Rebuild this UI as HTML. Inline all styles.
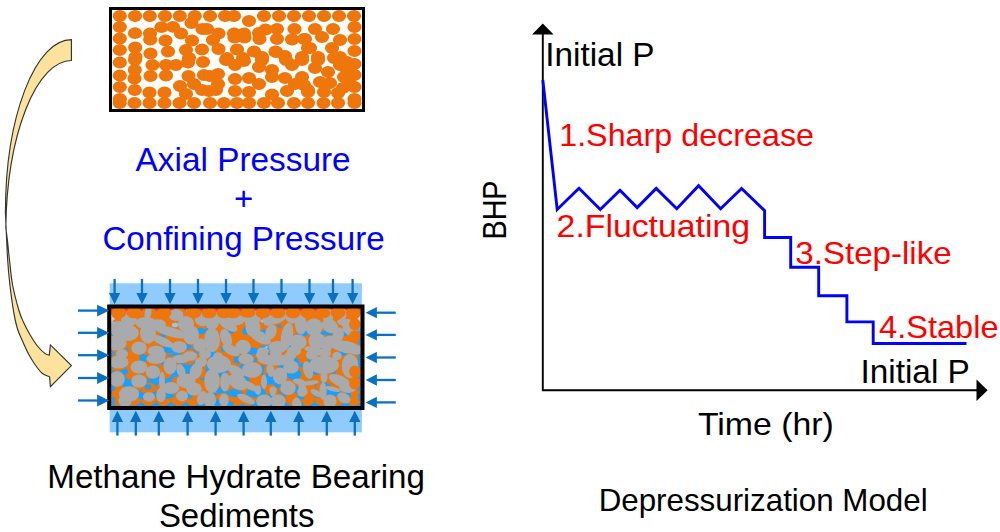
<!DOCTYPE html>
<html><head><meta charset="utf-8"><title>Depressurization Model</title>
<style>html,body{margin:0;padding:0;background:#fff;}body{width:1000px;height:532px;overflow:hidden;font-family:"Liberation Sans",sans-serif;}svg{display:block}</style>
</head><body>
<svg width="1000" height="532" viewBox="0 0 1000 532" font-family="'Liberation Sans', sans-serif">
<defs>
<linearGradient id="bg" x1="0" y1="0" x2="0" y2="1">
<stop offset="0" stop-color="#E82A2A"/><stop offset="0.04" stop-color="#EE4040"/><stop offset="0.10" stop-color="#F2C8D8"/><stop offset="0.16" stop-color="#A8D2F8"/><stop offset="0.27" stop-color="#24A2FF"/><stop offset="1" stop-color="#18A0FF"/>
</linearGradient>
<clipPath id="ct"><rect x="112" y="10" width="250" height="99"/></clipPath>
<clipPath id="cb"><rect x="110" y="307" width="252" height="100"/></clipPath>
</defs>
<rect width="1000" height="532" fill="#fff"/>
<!-- curved arrow -->
<path d="M71.4,39.6 A66,173.4 0 0 0 5.4,213C5.5,215.5 5.7,220.3 6.1,228.0C6.5,235.7 7.0,249.5 7.6,259.0C8.2,268.5 8.9,276.2 9.9,285.0C10.9,293.8 12.4,304.4 13.6,311.6C14.8,318.8 15.8,323.3 17.2,328.0C18.6,332.7 20.1,335.7 22.0,340.0C23.9,344.3 26.2,349.6 28.3,353.6C30.4,357.6 32.3,360.7 34.6,364.0C36.9,367.3 39.6,371.1 42.1,373.2C44.6,375.3 48.4,376.3 49.6,376.9L50.4,386.7 L71.4,365.6 L50.4,344.9 L49.3,355.1C48.6,354.9 47.1,355.1 45.1,353.6C43.1,352.1 40.0,349.3 37.4,346.0C34.8,342.7 31.9,338.0 29.6,334.0C27.3,330.0 25.2,326.0 23.4,322.0C21.6,318.0 20.6,316.2 18.8,310.0C17.0,303.8 14.2,293.5 12.6,285.0C11.0,276.5 10.3,266.5 9.4,259.0C8.5,251.5 8.0,245.2 7.4,240.0C6.8,234.8 6.1,230.0 5.8,228.0A65.9,173.1 0 0 1 71.4,60.5 Z" fill="#FCE29C" stroke="#333" stroke-width="1.15" stroke-linejoin="miter"/>
<!-- top box -->
<g clip-path="url(#ct)"><g fill="#EE760B"><ellipse cx="119.8" cy="16.0" rx="7.1" ry="5.9"/><ellipse cx="135.0" cy="16.0" rx="7.1" ry="5.9"/><ellipse cx="149.8" cy="16.0" rx="7.1" ry="5.9"/><ellipse cx="165.0" cy="16.0" rx="7.1" ry="5.9"/><ellipse cx="179.8" cy="16.0" rx="7.1" ry="5.9"/><ellipse cx="194.8" cy="16.0" rx="7.1" ry="5.9"/><ellipse cx="119.8" cy="27.0" rx="7.1" ry="5.9"/><ellipse cx="119.8" cy="38.5" rx="7.1" ry="5.9"/><ellipse cx="119.8" cy="50.0" rx="7.1" ry="5.9"/><ellipse cx="135.0" cy="33.2" rx="7.1" ry="5.9"/><ellipse cx="135.2" cy="47.5" rx="7.1" ry="5.9"/><ellipse cx="135.5" cy="57.0" rx="7.1" ry="5.9"/><ellipse cx="150.0" cy="33.5" rx="7.1" ry="5.9"/><ellipse cx="150.2" cy="39.5" rx="7.1" ry="5.9"/><ellipse cx="150.5" cy="53.5" rx="7.1" ry="5.9"/><ellipse cx="161.5" cy="27.2" rx="7.1" ry="5.9"/><ellipse cx="173.0" cy="26.8" rx="7.1" ry="5.9"/><ellipse cx="181.0" cy="33.5" rx="7.1" ry="5.9"/><ellipse cx="165.5" cy="40.5" rx="7.1" ry="5.9"/><ellipse cx="168.0" cy="51.5" rx="7.1" ry="5.9"/><ellipse cx="191.5" cy="23.0" rx="7.1" ry="5.9"/><ellipse cx="192.0" cy="40.5" rx="7.1" ry="5.9"/><ellipse cx="186.0" cy="50.0" rx="7.1" ry="5.9"/><ellipse cx="202.5" cy="29.0" rx="7.1" ry="5.9"/><ellipse cx="202.0" cy="49.5" rx="7.1" ry="5.9"/><ellipse cx="189.0" cy="58.0" rx="7.1" ry="5.9"/><ellipse cx="119.8" cy="62.5" rx="7.1" ry="5.9"/><ellipse cx="119.8" cy="75.5" rx="7.1" ry="5.9"/><ellipse cx="119.8" cy="87.0" rx="7.1" ry="5.9"/><ellipse cx="119.8" cy="99.0" rx="7.1" ry="5.9"/><ellipse cx="119.8" cy="103.0" rx="7.1" ry="5.9"/><ellipse cx="134.5" cy="103.0" rx="7.1" ry="5.9"/><ellipse cx="149.5" cy="103.0" rx="7.1" ry="5.9"/><ellipse cx="164.5" cy="103.0" rx="7.1" ry="5.9"/><ellipse cx="179.5" cy="103.0" rx="7.1" ry="5.9"/><ellipse cx="194.0" cy="103.0" rx="7.1" ry="5.9"/><ellipse cx="135.0" cy="60.0" rx="7.1" ry="5.9"/><ellipse cx="134.8" cy="70.0" rx="7.1" ry="5.9"/><ellipse cx="134.5" cy="78.5" rx="7.1" ry="5.9"/><ellipse cx="134.8" cy="90.0" rx="7.1" ry="5.9"/><ellipse cx="152.5" cy="65.0" rx="7.1" ry="5.9"/><ellipse cx="150.5" cy="76.0" rx="7.1" ry="5.9"/><ellipse cx="149.5" cy="92.5" rx="7.1" ry="5.9"/><ellipse cx="166.0" cy="65.0" rx="7.1" ry="5.9"/><ellipse cx="166.0" cy="75.5" rx="7.1" ry="5.9"/><ellipse cx="164.5" cy="92.5" rx="7.1" ry="5.9"/><ellipse cx="176.0" cy="65.0" rx="7.1" ry="5.9"/><ellipse cx="188.0" cy="62.5" rx="7.1" ry="5.9"/><ellipse cx="203.0" cy="62.0" rx="7.1" ry="5.9"/><ellipse cx="188.5" cy="76.0" rx="7.1" ry="5.9"/><ellipse cx="204.0" cy="75.0" rx="7.1" ry="5.9"/><ellipse cx="180.0" cy="86.0" rx="7.1" ry="5.9"/><ellipse cx="194.0" cy="84.0" rx="7.1" ry="5.9"/><ellipse cx="186.0" cy="94.0" rx="7.1" ry="5.9"/><ellipse cx="202.0" cy="90.0" rx="7.1" ry="5.9"/><ellipse cx="210.0" cy="16.0" rx="7.1" ry="5.9"/><ellipse cx="225.0" cy="16.0" rx="7.1" ry="5.9"/><ellipse cx="234.0" cy="16.0" rx="7.1" ry="5.9"/><ellipse cx="249.0" cy="21.0" rx="7.1" ry="5.9"/><ellipse cx="264.0" cy="16.0" rx="7.1" ry="5.9"/><ellipse cx="279.0" cy="16.0" rx="7.1" ry="5.9"/><ellipse cx="294.0" cy="16.0" rx="7.1" ry="5.9"/><ellipse cx="309.0" cy="16.0" rx="7.1" ry="5.9"/><ellipse cx="207.0" cy="29.0" rx="7.1" ry="5.9"/><ellipse cx="218.5" cy="33.5" rx="7.1" ry="5.9"/><ellipse cx="213.0" cy="40.0" rx="7.1" ry="5.9"/><ellipse cx="218.5" cy="49.0" rx="7.1" ry="5.9"/><ellipse cx="234.0" cy="33.5" rx="7.1" ry="5.9"/><ellipse cx="234.5" cy="37.5" rx="7.1" ry="5.9"/><ellipse cx="244.0" cy="33.5" rx="7.1" ry="5.9"/><ellipse cx="244.5" cy="37.5" rx="7.1" ry="5.9"/><ellipse cx="259.0" cy="33.0" rx="7.1" ry="5.9"/><ellipse cx="259.5" cy="39.0" rx="7.1" ry="5.9"/><ellipse cx="265.5" cy="29.5" rx="7.1" ry="5.9"/><ellipse cx="277.0" cy="29.0" rx="7.1" ry="5.9"/><ellipse cx="277.0" cy="39.0" rx="7.1" ry="5.9"/><ellipse cx="294.5" cy="29.0" rx="7.1" ry="5.9"/><ellipse cx="292.0" cy="39.5" rx="7.1" ry="5.9"/><ellipse cx="304.0" cy="39.0" rx="7.1" ry="5.9"/><ellipse cx="237.0" cy="49.5" rx="7.1" ry="5.9"/><ellipse cx="254.0" cy="51.5" rx="7.1" ry="5.9"/><ellipse cx="275.5" cy="51.5" rx="7.1" ry="5.9"/><ellipse cx="227.0" cy="58.0" rx="7.1" ry="5.9"/><ellipse cx="243.0" cy="58.0" rx="7.1" ry="5.9"/><ellipse cx="262.0" cy="57.0" rx="7.1" ry="5.9"/><ellipse cx="285.0" cy="56.0" rx="7.1" ry="5.9"/><ellipse cx="302.0" cy="57.0" rx="7.1" ry="5.9"/><ellipse cx="308.0" cy="48.0" rx="7.1" ry="5.9"/><ellipse cx="210.0" cy="103.0" rx="7.1" ry="5.9"/><ellipse cx="224.0" cy="103.0" rx="7.1" ry="5.9"/><ellipse cx="237.0" cy="103.0" rx="7.1" ry="5.9"/><ellipse cx="249.0" cy="103.0" rx="7.1" ry="5.9"/><ellipse cx="264.0" cy="103.0" rx="7.1" ry="5.9"/><ellipse cx="278.0" cy="103.0" rx="7.1" ry="5.9"/><ellipse cx="294.0" cy="103.0" rx="7.1" ry="5.9"/><ellipse cx="308.0" cy="103.0" rx="7.1" ry="5.9"/><ellipse cx="226.0" cy="60.0" rx="7.1" ry="5.9"/><ellipse cx="235.0" cy="65.0" rx="7.1" ry="5.9"/><ellipse cx="244.0" cy="61.0" rx="7.1" ry="5.9"/><ellipse cx="259.0" cy="67.0" rx="7.1" ry="5.9"/><ellipse cx="262.0" cy="60.0" rx="7.1" ry="5.9"/><ellipse cx="272.0" cy="70.0" rx="7.1" ry="5.9"/><ellipse cx="272.0" cy="77.0" rx="7.1" ry="5.9"/><ellipse cx="286.0" cy="60.0" rx="7.1" ry="5.9"/><ellipse cx="292.0" cy="65.0" rx="7.1" ry="5.9"/><ellipse cx="302.0" cy="60.0" rx="7.1" ry="5.9"/><ellipse cx="218.0" cy="74.0" rx="7.1" ry="5.9"/><ellipse cx="210.0" cy="76.0" rx="7.1" ry="5.9"/><ellipse cx="218.0" cy="84.0" rx="7.1" ry="5.9"/><ellipse cx="216.0" cy="90.0" rx="7.1" ry="5.9"/><ellipse cx="209.0" cy="91.0" rx="7.1" ry="5.9"/><ellipse cx="235.0" cy="79.0" rx="7.1" ry="5.9"/><ellipse cx="235.0" cy="91.0" rx="7.1" ry="5.9"/><ellipse cx="249.0" cy="78.0" rx="7.1" ry="5.9"/><ellipse cx="249.0" cy="92.0" rx="7.1" ry="5.9"/><ellipse cx="259.0" cy="84.0" rx="7.1" ry="5.9"/><ellipse cx="272.0" cy="94.5" rx="7.1" ry="5.9"/><ellipse cx="285.0" cy="78.0" rx="7.1" ry="5.9"/><ellipse cx="287.0" cy="91.0" rx="7.1" ry="5.9"/><ellipse cx="302.0" cy="77.0" rx="7.1" ry="5.9"/><ellipse cx="304.0" cy="85.0" rx="7.1" ry="5.9"/><ellipse cx="308.0" cy="92.0" rx="7.1" ry="5.9"/><ellipse cx="324.0" cy="16.0" rx="7.1" ry="5.9"/><ellipse cx="339.0" cy="16.0" rx="7.1" ry="5.9"/><ellipse cx="354.0" cy="16.0" rx="7.1" ry="5.9"/><ellipse cx="354.5" cy="27.0" rx="7.1" ry="5.9"/><ellipse cx="354.5" cy="39.0" rx="7.1" ry="5.9"/><ellipse cx="354.5" cy="51.0" rx="7.1" ry="5.9"/><ellipse cx="305.0" cy="39.0" rx="7.1" ry="5.9"/><ellipse cx="315.0" cy="29.0" rx="7.1" ry="5.9"/><ellipse cx="322.0" cy="37.0" rx="7.1" ry="5.9"/><ellipse cx="333.0" cy="29.0" rx="7.1" ry="5.9"/><ellipse cx="340.0" cy="40.0" rx="7.1" ry="5.9"/><ellipse cx="310.0" cy="48.0" rx="7.1" ry="5.9"/><ellipse cx="332.0" cy="48.0" rx="7.1" ry="5.9"/><ellipse cx="276.0" cy="52.0" rx="7.1" ry="5.9"/><ellipse cx="318.0" cy="57.0" rx="7.1" ry="5.9"/><ellipse cx="340.0" cy="57.0" rx="7.1" ry="5.9"/><ellipse cx="354.5" cy="64.0" rx="7.1" ry="5.9"/><ellipse cx="354.5" cy="75.0" rx="7.1" ry="5.9"/><ellipse cx="354.5" cy="87.0" rx="7.1" ry="5.9"/><ellipse cx="354.5" cy="99.0" rx="7.1" ry="5.9"/><ellipse cx="354.5" cy="103.0" rx="7.1" ry="5.9"/><ellipse cx="323.5" cy="103.0" rx="7.1" ry="5.9"/><ellipse cx="338.0" cy="103.0" rx="7.1" ry="5.9"/><ellipse cx="315.0" cy="68.0" rx="7.1" ry="5.9"/><ellipse cx="318.0" cy="60.0" rx="7.1" ry="5.9"/><ellipse cx="328.0" cy="72.0" rx="7.1" ry="5.9"/><ellipse cx="340.0" cy="65.0" rx="7.1" ry="5.9"/><ellipse cx="347.0" cy="62.0" rx="7.1" ry="5.9"/><ellipse cx="344.0" cy="77.0" rx="7.1" ry="5.9"/><ellipse cx="295.0" cy="84.0" rx="7.1" ry="5.9"/><ellipse cx="308.0" cy="90.0" rx="7.1" ry="5.9"/><ellipse cx="320.0" cy="82.0" rx="7.1" ry="5.9"/><ellipse cx="330.0" cy="83.0" rx="7.1" ry="5.9"/><ellipse cx="324.0" cy="92.0" rx="7.1" ry="5.9"/><ellipse cx="338.0" cy="93.0" rx="7.1" ry="5.9"/><ellipse cx="334.0" cy="58.0" rx="7.1" ry="5.9"/><ellipse cx="347.0" cy="70.0" rx="7.1" ry="5.9"/><ellipse cx="349.0" cy="82.0" rx="7.1" ry="5.9"/><ellipse cx="343.0" cy="88.0" rx="7.1" ry="5.9"/></g></g>
<rect x="110.5" y="8.5" width="253" height="102" fill="none" stroke="#000" stroke-width="3"/>
<!-- bottom box -->
<rect x="109.7" y="283.3" width="252.2" height="149" fill="#90CBFE"/>
<rect x="109" y="306" width="254" height="102" fill="url(#bg)"/>
<g clip-path="url(#cb)"><g fill="#EE760B"><ellipse cx="118.8" cy="313.5" rx="7.4" ry="6.2"/><ellipse cx="134.0" cy="313.5" rx="7.4" ry="6.2"/><ellipse cx="148.8" cy="313.5" rx="7.4" ry="6.2"/><ellipse cx="164.0" cy="313.5" rx="7.4" ry="6.2"/><ellipse cx="178.8" cy="313.5" rx="7.4" ry="6.2"/><ellipse cx="193.8" cy="313.5" rx="7.4" ry="6.2"/><ellipse cx="118.8" cy="324.3" rx="7.4" ry="6.2"/><ellipse cx="118.8" cy="335.7" rx="7.4" ry="6.2"/><ellipse cx="118.8" cy="347.0" rx="7.4" ry="6.2"/><ellipse cx="118.8" cy="359.3" rx="7.4" ry="6.2"/><ellipse cx="118.8" cy="372.1" rx="7.4" ry="6.2"/><ellipse cx="118.8" cy="383.4" rx="7.4" ry="6.2"/><ellipse cx="118.8" cy="395.3" rx="7.4" ry="6.2"/><ellipse cx="118.8" cy="399.2" rx="7.4" ry="6.2"/><ellipse cx="133.5" cy="399.2" rx="7.4" ry="6.2"/><ellipse cx="148.5" cy="399.2" rx="7.4" ry="6.2"/><ellipse cx="163.5" cy="399.2" rx="7.4" ry="6.2"/><ellipse cx="178.5" cy="399.2" rx="7.4" ry="6.2"/><ellipse cx="193.0" cy="399.2" rx="7.4" ry="6.2"/><ellipse cx="209.0" cy="313.5" rx="7.4" ry="6.2"/><ellipse cx="224.0" cy="313.5" rx="7.4" ry="6.2"/><ellipse cx="233.0" cy="313.5" rx="7.4" ry="6.2"/><ellipse cx="263.0" cy="313.5" rx="7.4" ry="6.2"/><ellipse cx="278.0" cy="313.5" rx="7.4" ry="6.2"/><ellipse cx="293.0" cy="313.5" rx="7.4" ry="6.2"/><ellipse cx="308.0" cy="313.5" rx="7.4" ry="6.2"/><ellipse cx="209.0" cy="399.2" rx="7.4" ry="6.2"/><ellipse cx="223.0" cy="399.2" rx="7.4" ry="6.2"/><ellipse cx="236.0" cy="399.2" rx="7.4" ry="6.2"/><ellipse cx="248.0" cy="399.2" rx="7.4" ry="6.2"/><ellipse cx="263.0" cy="399.2" rx="7.4" ry="6.2"/><ellipse cx="277.0" cy="399.2" rx="7.4" ry="6.2"/><ellipse cx="293.0" cy="399.2" rx="7.4" ry="6.2"/><ellipse cx="307.0" cy="399.2" rx="7.4" ry="6.2"/><ellipse cx="323.0" cy="313.5" rx="7.4" ry="6.2"/><ellipse cx="338.0" cy="313.5" rx="7.4" ry="6.2"/><ellipse cx="353.0" cy="313.5" rx="7.4" ry="6.2"/><ellipse cx="353.5" cy="324.3" rx="7.4" ry="6.2"/><ellipse cx="353.5" cy="336.2" rx="7.4" ry="6.2"/><ellipse cx="353.5" cy="348.0" rx="7.4" ry="6.2"/><ellipse cx="353.5" cy="360.8" rx="7.4" ry="6.2"/><ellipse cx="353.5" cy="371.6" rx="7.4" ry="6.2"/><ellipse cx="353.5" cy="383.4" rx="7.4" ry="6.2"/><ellipse cx="353.5" cy="395.3" rx="7.4" ry="6.2"/><ellipse cx="353.5" cy="399.2" rx="7.4" ry="6.2"/><ellipse cx="322.5" cy="399.2" rx="7.4" ry="6.2"/><ellipse cx="337.0" cy="399.2" rx="7.4" ry="6.2"/><ellipse cx="248.0" cy="313.0" rx="7.4" ry="6.2"/><rect x="116" y="313.5" width="241" height="32" rx="4"/><ellipse cx="118.8" cy="347.0" rx="7.7" ry="6.5"/><ellipse cx="134.2" cy="344.5" rx="7.7" ry="6.5"/><ellipse cx="134.5" cy="353.9" rx="7.7" ry="6.5"/><ellipse cx="149.5" cy="350.4" rx="7.7" ry="6.5"/><ellipse cx="167.0" cy="348.5" rx="7.7" ry="6.5"/><ellipse cx="185.0" cy="347.0" rx="7.7" ry="6.5"/><ellipse cx="201.0" cy="346.5" rx="7.7" ry="6.5"/><ellipse cx="188.0" cy="354.9" rx="7.7" ry="6.5"/><ellipse cx="118.8" cy="359.3" rx="7.7" ry="6.5"/><ellipse cx="118.8" cy="372.1" rx="7.7" ry="6.5"/><ellipse cx="118.8" cy="383.4" rx="7.7" ry="6.5"/><ellipse cx="118.8" cy="395.3" rx="7.7" ry="6.5"/><ellipse cx="118.8" cy="399.2" rx="7.7" ry="6.5"/><ellipse cx="133.5" cy="399.2" rx="7.7" ry="6.5"/><ellipse cx="148.5" cy="399.2" rx="7.7" ry="6.5"/><ellipse cx="163.5" cy="399.2" rx="7.7" ry="6.5"/><ellipse cx="178.5" cy="399.2" rx="7.7" ry="6.5"/><ellipse cx="193.0" cy="399.2" rx="7.7" ry="6.5"/><ellipse cx="134.0" cy="356.9" rx="7.7" ry="6.5"/><ellipse cx="133.8" cy="366.7" rx="7.7" ry="6.5"/><ellipse cx="133.5" cy="375.1" rx="7.7" ry="6.5"/><ellipse cx="133.8" cy="386.4" rx="7.7" ry="6.5"/><ellipse cx="151.5" cy="361.8" rx="7.7" ry="6.5"/><ellipse cx="149.5" cy="372.6" rx="7.7" ry="6.5"/><ellipse cx="148.5" cy="388.9" rx="7.7" ry="6.5"/><ellipse cx="165.0" cy="361.8" rx="7.7" ry="6.5"/><ellipse cx="165.0" cy="372.1" rx="7.7" ry="6.5"/><ellipse cx="163.5" cy="388.9" rx="7.7" ry="6.5"/><ellipse cx="175.0" cy="361.8" rx="7.7" ry="6.5"/><ellipse cx="187.0" cy="359.3" rx="7.7" ry="6.5"/><ellipse cx="202.0" cy="358.8" rx="7.7" ry="6.5"/><ellipse cx="187.5" cy="372.6" rx="7.7" ry="6.5"/><ellipse cx="203.0" cy="371.6" rx="7.7" ry="6.5"/><ellipse cx="179.0" cy="382.5" rx="7.7" ry="6.5"/><ellipse cx="193.0" cy="380.5" rx="7.7" ry="6.5"/><ellipse cx="185.0" cy="390.3" rx="7.7" ry="6.5"/><ellipse cx="201.0" cy="386.4" rx="7.7" ry="6.5"/><ellipse cx="217.5" cy="346.0" rx="7.7" ry="6.5"/><ellipse cx="236.0" cy="346.5" rx="7.7" ry="6.5"/><ellipse cx="253.0" cy="348.5" rx="7.7" ry="6.5"/><ellipse cx="274.5" cy="348.5" rx="7.7" ry="6.5"/><ellipse cx="226.0" cy="354.9" rx="7.7" ry="6.5"/><ellipse cx="242.0" cy="354.9" rx="7.7" ry="6.5"/><ellipse cx="261.0" cy="353.9" rx="7.7" ry="6.5"/><ellipse cx="284.0" cy="352.9" rx="7.7" ry="6.5"/><ellipse cx="301.0" cy="353.9" rx="7.7" ry="6.5"/><ellipse cx="307.0" cy="345.0" rx="7.7" ry="6.5"/><ellipse cx="209.0" cy="399.2" rx="7.7" ry="6.5"/><ellipse cx="223.0" cy="399.2" rx="7.7" ry="6.5"/><ellipse cx="236.0" cy="399.2" rx="7.7" ry="6.5"/><ellipse cx="248.0" cy="399.2" rx="7.7" ry="6.5"/><ellipse cx="263.0" cy="399.2" rx="7.7" ry="6.5"/><ellipse cx="277.0" cy="399.2" rx="7.7" ry="6.5"/><ellipse cx="293.0" cy="399.2" rx="7.7" ry="6.5"/><ellipse cx="307.0" cy="399.2" rx="7.7" ry="6.5"/><ellipse cx="225.0" cy="356.9" rx="7.7" ry="6.5"/><ellipse cx="234.0" cy="361.8" rx="7.7" ry="6.5"/><ellipse cx="243.0" cy="357.8" rx="7.7" ry="6.5"/><ellipse cx="258.0" cy="363.7" rx="7.7" ry="6.5"/><ellipse cx="261.0" cy="356.9" rx="7.7" ry="6.5"/><ellipse cx="271.0" cy="366.7" rx="7.7" ry="6.5"/><ellipse cx="271.0" cy="373.6" rx="7.7" ry="6.5"/><ellipse cx="285.0" cy="356.9" rx="7.7" ry="6.5"/><ellipse cx="291.0" cy="361.8" rx="7.7" ry="6.5"/><ellipse cx="301.0" cy="356.9" rx="7.7" ry="6.5"/><ellipse cx="217.0" cy="370.6" rx="7.7" ry="6.5"/><ellipse cx="209.0" cy="372.6" rx="7.7" ry="6.5"/><ellipse cx="217.0" cy="380.5" rx="7.7" ry="6.5"/><ellipse cx="215.0" cy="386.4" rx="7.7" ry="6.5"/><ellipse cx="208.0" cy="387.4" rx="7.7" ry="6.5"/><ellipse cx="234.0" cy="375.6" rx="7.7" ry="6.5"/><ellipse cx="234.0" cy="387.4" rx="7.7" ry="6.5"/><ellipse cx="248.0" cy="374.6" rx="7.7" ry="6.5"/><ellipse cx="248.0" cy="388.4" rx="7.7" ry="6.5"/><ellipse cx="258.0" cy="380.5" rx="7.7" ry="6.5"/><ellipse cx="271.0" cy="390.8" rx="7.7" ry="6.5"/><ellipse cx="284.0" cy="374.6" rx="7.7" ry="6.5"/><ellipse cx="286.0" cy="387.4" rx="7.7" ry="6.5"/><ellipse cx="301.0" cy="373.6" rx="7.7" ry="6.5"/><ellipse cx="303.0" cy="381.5" rx="7.7" ry="6.5"/><ellipse cx="307.0" cy="388.4" rx="7.7" ry="6.5"/><ellipse cx="353.5" cy="348.0" rx="7.7" ry="6.5"/><ellipse cx="309.0" cy="345.0" rx="7.7" ry="6.5"/><ellipse cx="331.0" cy="345.0" rx="7.7" ry="6.5"/><ellipse cx="275.0" cy="349.0" rx="7.7" ry="6.5"/><ellipse cx="317.0" cy="353.9" rx="7.7" ry="6.5"/><ellipse cx="339.0" cy="353.9" rx="7.7" ry="6.5"/><ellipse cx="353.5" cy="360.8" rx="7.7" ry="6.5"/><ellipse cx="353.5" cy="371.6" rx="7.7" ry="6.5"/><ellipse cx="353.5" cy="383.4" rx="7.7" ry="6.5"/><ellipse cx="353.5" cy="395.3" rx="7.7" ry="6.5"/><ellipse cx="353.5" cy="399.2" rx="7.7" ry="6.5"/><ellipse cx="322.5" cy="399.2" rx="7.7" ry="6.5"/><ellipse cx="337.0" cy="399.2" rx="7.7" ry="6.5"/><ellipse cx="314.0" cy="364.7" rx="7.7" ry="6.5"/><ellipse cx="317.0" cy="356.9" rx="7.7" ry="6.5"/><ellipse cx="327.0" cy="368.7" rx="7.7" ry="6.5"/><ellipse cx="339.0" cy="361.8" rx="7.7" ry="6.5"/><ellipse cx="346.0" cy="358.8" rx="7.7" ry="6.5"/><ellipse cx="343.0" cy="373.6" rx="7.7" ry="6.5"/><ellipse cx="294.0" cy="380.5" rx="7.7" ry="6.5"/><ellipse cx="307.0" cy="386.4" rx="7.7" ry="6.5"/><ellipse cx="319.0" cy="378.5" rx="7.7" ry="6.5"/><ellipse cx="329.0" cy="379.5" rx="7.7" ry="6.5"/><ellipse cx="323.0" cy="388.4" rx="7.7" ry="6.5"/><ellipse cx="337.0" cy="389.4" rx="7.7" ry="6.5"/><ellipse cx="333.0" cy="354.9" rx="7.7" ry="6.5"/><ellipse cx="346.0" cy="366.7" rx="7.7" ry="6.5"/><ellipse cx="348.0" cy="378.5" rx="7.7" ry="6.5"/><ellipse cx="342.0" cy="384.4" rx="7.7" ry="6.5"/></g><ellipse cx="175" cy="325" rx="3.2" ry="2.2" fill="#8CC8F8"/><ellipse cx="142" cy="328.5" rx="1.6" ry="1.6" fill="#18A0FF"/><ellipse cx="156.5" cy="329" rx="1.6" ry="1.6" fill="#18A0FF"/><ellipse cx="127.5" cy="327.5" rx="1.6" ry="1.6" fill="#8CC8F8"/><ellipse cx="201" cy="331" rx="4.9" ry="3.2" fill="#18A0FF"/><ellipse cx="163" cy="336" rx="2.7" ry="2.2" fill="#18A0FF"/><ellipse cx="169" cy="349" rx="6.1" ry="4.1" fill="#18A0FF"/><ellipse cx="188" cy="347" rx="3.4" ry="2.7" fill="#18A0FF"/><ellipse cx="113" cy="324" rx="1.6" ry="2.7" fill="#8CC8F8"/><ellipse cx="113" cy="336" rx="1.3" ry="2.2" fill="#18A0FF"/><ellipse cx="144" cy="358" rx="4.7" ry="3.4" fill="#18A0FF"/><ellipse cx="163" cy="363" rx="2.0" ry="2.0" fill="#18A0FF"/><ellipse cx="124" cy="372" rx="4.1" ry="2.7" fill="#18A0FF"/><ellipse cx="128" cy="384" rx="5.4" ry="4.7" fill="#18A0FF"/><ellipse cx="113.5" cy="374" rx="2.0" ry="4.1" fill="#18A0FF"/><ellipse cx="174" cy="372.5" rx="3.4" ry="2.7" fill="#18A0FF"/><ellipse cx="187" cy="369" rx="6.1" ry="4.7" fill="#18A0FF"/><ellipse cx="182" cy="362" rx="3.4" ry="2.7" fill="#18A0FF"/><ellipse cx="148" cy="387" rx="3.4" ry="2.7" fill="#18A0FF"/><ellipse cx="142" cy="396" rx="4.1" ry="3.4" fill="#18A0FF"/><ellipse cx="154" cy="395" rx="3.4" ry="2.7" fill="#18A0FF"/><ellipse cx="168" cy="396" rx="6.1" ry="2.7" fill="#18A0FF"/><ellipse cx="189" cy="396" rx="3.4" ry="2.7" fill="#18A0FF"/><ellipse cx="113.5" cy="385" rx="1.6" ry="3.4" fill="#18A0FF"/><ellipse cx="113.5" cy="400" rx="1.6" ry="3.4" fill="#18A0FF"/><ellipse cx="141" cy="405" rx="2.7" ry="2.0" fill="#18A0FF"/><ellipse cx="156" cy="405" rx="2.7" ry="2.0" fill="#18A0FF"/><ellipse cx="171" cy="405" rx="2.7" ry="2.0" fill="#18A0FF"/><ellipse cx="186" cy="405" rx="2.7" ry="2.0" fill="#18A0FF"/><ellipse cx="246" cy="331" rx="3.8" ry="3.8" fill="#18A0FF"/><ellipse cx="231" cy="331.5" rx="2.7" ry="2.7" fill="#18A0FF"/><ellipse cx="222" cy="332" rx="1.6" ry="1.6" fill="#18A0FF"/><ellipse cx="264" cy="333" rx="3.2" ry="3.8" fill="#18A0FF"/><ellipse cx="247" cy="324" rx="1.6" ry="1.6" fill="#8CC8F8"/><ellipse cx="280" cy="326" rx="1.6" ry="1.6" fill="#18A0FF"/><ellipse cx="302" cy="334" rx="4.9" ry="2.7" fill="#18A0FF"/><ellipse cx="262" cy="321" rx="1.6" ry="1.6" fill="#8CC8F8"/><ellipse cx="253" cy="351" rx="6.1" ry="3.4" fill="#18A0FF"/><ellipse cx="224" cy="349" rx="3.4" ry="2.7" fill="#18A0FF"/><ellipse cx="268" cy="348.5" rx="3.4" ry="2.7" fill="#8CC8F8"/><ellipse cx="207" cy="329.5" rx="1.6" ry="1.6" fill="#18A0FF"/><ellipse cx="210" cy="369" rx="4.7" ry="4.1" fill="#18A0FF"/><ellipse cx="237" cy="360" rx="3.4" ry="3.4" fill="#18A0FF"/><ellipse cx="222" cy="374.5" rx="3.4" ry="2.7" fill="#18A0FF"/><ellipse cx="255" cy="360" rx="2.0" ry="2.0" fill="#18A0FF"/><ellipse cx="263" cy="367" rx="2.0" ry="2.0" fill="#18A0FF"/><ellipse cx="270" cy="378" rx="4.7" ry="6.1" fill="#18A0FF"/><ellipse cx="294" cy="374" rx="7.4" ry="6.1" fill="#18A0FF"/><ellipse cx="295" cy="361" rx="4.1" ry="3.4" fill="#18A0FF"/><ellipse cx="246" cy="379" rx="3.4" ry="2.7" fill="#18A0FF"/><ellipse cx="256" cy="393" rx="10.1" ry="4.7" fill="#18A0FF"/><ellipse cx="234" cy="393" rx="6.1" ry="4.1" fill="#18A0FF"/><ellipse cx="219" cy="390" rx="3.4" ry="2.7" fill="#18A0FF"/><ellipse cx="278" cy="385" rx="3.4" ry="2.7" fill="#18A0FF"/><ellipse cx="303" cy="383" rx="3.4" ry="2.7" fill="#18A0FF"/><ellipse cx="217" cy="403" rx="4.1" ry="3.4" fill="#18A0FF"/><ellipse cx="230" cy="404" rx="3.4" ry="2.7" fill="#18A0FF"/><ellipse cx="271" cy="396" rx="2.0" ry="2.0" fill="#18A0FF"/><ellipse cx="301" cy="397" rx="3.4" ry="2.7" fill="#18A0FF"/><ellipse cx="308.5" cy="332" rx="8.6" ry="2.7" fill="#18A0FF"/><ellipse cx="326.5" cy="333" rx="7.6" ry="2.2" fill="#18A0FF"/><ellipse cx="345" cy="334" rx="2.7" ry="2.2" fill="#18A0FF"/><ellipse cx="358" cy="325" rx="2.2" ry="3.2" fill="#8CC8F8"/><ellipse cx="358" cy="335" rx="2.2" ry="2.7" fill="#18A0FF"/><ellipse cx="328" cy="348" rx="2.7" ry="4.1" fill="#8CC8F8"/><ellipse cx="279" cy="326" rx="1.6" ry="1.6" fill="#18A0FF"/><ellipse cx="292" cy="336" rx="1.6" ry="1.6" fill="#18A0FF"/><ellipse cx="270" cy="348" rx="2.7" ry="2.7" fill="#18A0FF"/><ellipse cx="343" cy="353" rx="3.4" ry="2.7" fill="#18A0FF"/><ellipse cx="312" cy="362" rx="3.4" ry="4.1" fill="#18A0FF"/><ellipse cx="316" cy="372" rx="3.4" ry="2.7" fill="#18A0FF"/><ellipse cx="345" cy="366" rx="2.0" ry="2.0" fill="#18A0FF"/><ellipse cx="324" cy="384" rx="3.4" ry="2.7" fill="#18A0FF"/><ellipse cx="333" cy="392" rx="7.4" ry="4.1" fill="#18A0FF"/><ellipse cx="328" cy="387" rx="3.4" ry="2.7" fill="#18A0FF"/><ellipse cx="347" cy="396" rx="4.1" ry="3.4" fill="#18A0FF"/><ellipse cx="359.5" cy="361" rx="1.4" ry="6.8" fill="#18A0FF"/><ellipse cx="359.5" cy="385" rx="1.4" ry="4.1" fill="#18A0FF"/><ellipse cx="359.5" cy="397" rx="1.4" ry="4.1" fill="#18A0FF"/><ellipse cx="317" cy="396" rx="2.0" ry="2.0" fill="#18A0FF"/><ellipse cx="269" cy="396" rx="2.0" ry="2.0" fill="#18A0FF"/><ellipse cx="301" cy="404" rx="2.7" ry="2.0" fill="#18A0FF"/><g fill="#A8AAAC"><ellipse cx="129" cy="320" rx="8.0" ry="6.7"/><ellipse cx="118" cy="329" rx="8.0" ry="8.0"/><ellipse cx="128" cy="333" rx="10.7" ry="8.0"/><ellipse cx="148" cy="313" rx="3.4" ry="6.7" transform="rotate(10 148 313)"/><ellipse cx="146" cy="323" rx="10.7" ry="6.0"/><ellipse cx="148" cy="333" rx="8.0" ry="10.7"/><ellipse cx="158" cy="324" rx="8.0" ry="4.7"/><ellipse cx="116" cy="343" rx="10.7" ry="7.4"/><ellipse cx="112" cy="338.5" rx="5.4" ry="2.0" transform="rotate(10 112 338.5)"/><ellipse cx="139" cy="348" rx="7.8" ry="6.6"/><ellipse cx="156" cy="351" rx="8.4" ry="5.4"/><ellipse cx="176" cy="315" rx="7.4" ry="6.0"/><ellipse cx="186" cy="324" rx="8.0" ry="8.0"/><ellipse cx="196" cy="314" rx="10.7" ry="3.4" transform="rotate(20 196 314)"/><ellipse cx="171" cy="332" rx="17.4" ry="4.7" transform="rotate(15 171 332)"/><ellipse cx="191" cy="335" rx="8.0" ry="9.4"/><ellipse cx="179" cy="347" rx="7.8" ry="6.0"/><ellipse cx="201" cy="321" rx="6.7" ry="4.7" transform="rotate(30 201 321)"/><ellipse cx="200" cy="345" rx="6.7" ry="6.7"/><ellipse cx="162" cy="341" rx="13.4" ry="4.0" transform="rotate(25 162 341)"/><ellipse cx="119" cy="362" rx="9.6" ry="6.6"/><ellipse cx="139" cy="367" rx="8.4" ry="6.6"/><ellipse cx="153" cy="372" rx="7.2" ry="6.6"/><ellipse cx="117" cy="379" rx="7.8" ry="7.8"/><ellipse cx="139" cy="381" rx="7.8" ry="6.6"/><ellipse cx="129" cy="394" rx="10.2" ry="7.8"/><ellipse cx="125" cy="401" rx="6.6" ry="6.0"/><ellipse cx="149" cy="397" rx="6.0" ry="4.8"/><ellipse cx="161" cy="395" rx="4.8" ry="7.2"/><ellipse cx="162" cy="381" rx="3.0" ry="9.6"/><ellipse cx="171" cy="388" rx="8.4" ry="6.0"/><ellipse cx="170" cy="366" rx="6.6" ry="8.4"/><ellipse cx="156" cy="359" rx="9.6" ry="4.8"/><ellipse cx="181" cy="359" rx="8.4" ry="4.2"/><ellipse cx="181" cy="371" rx="4.2" ry="7.2" transform="rotate(-20 181 371)"/><ellipse cx="186" cy="381" rx="9.6" ry="7.2"/><ellipse cx="194" cy="389" rx="7.8" ry="6.6"/><ellipse cx="182" cy="396" rx="6.0" ry="5.4"/><ellipse cx="196" cy="371" rx="6.0" ry="8.4" transform="rotate(20 196 371)"/><ellipse cx="201" cy="362" rx="6.0" ry="4.8"/><ellipse cx="202" cy="398" rx="4.8" ry="7.2" transform="rotate(20 202 398)"/><ellipse cx="212" cy="320" rx="7.4" ry="10.1"/><ellipse cx="223" cy="318" rx="6.7" ry="5.4"/><ellipse cx="228" cy="325" rx="10.7" ry="4.7" transform="rotate(30 228 325)"/><ellipse cx="236" cy="320" rx="8.7" ry="5.4"/><ellipse cx="252" cy="318" rx="8.7" ry="8.0"/><ellipse cx="253" cy="328" rx="7.4" ry="8.7"/><ellipse cx="260" cy="337" rx="12.1" ry="5.4" transform="rotate(30 260 337)"/><ellipse cx="268" cy="320" rx="5.4" ry="6.0"/><ellipse cx="279" cy="317" rx="10.7" ry="5.4" transform="rotate(-30 279 317)"/><ellipse cx="293" cy="316" rx="8.0" ry="7.4"/><ellipse cx="301" cy="325" rx="6.0" ry="9.4"/><ellipse cx="271" cy="332" rx="5.4" ry="8.0" transform="rotate(20 271 332)"/><ellipse cx="287" cy="336" rx="6.0" ry="13.4" transform="rotate(10 287 336)"/><ellipse cx="212" cy="340" rx="8.0" ry="12.1"/><ellipse cx="226" cy="338" rx="5.4" ry="9.4" transform="rotate(-20 226 338)"/><ellipse cx="243" cy="347" rx="7.8" ry="7.2"/><ellipse cx="231" cy="350" rx="9.6" ry="4.8" transform="rotate(30 231 350)"/><ellipse cx="278" cy="347" rx="9.6" ry="6.0"/><ellipse cx="298" cy="342" rx="8.7" ry="7.4"/><ellipse cx="294" cy="351" rx="7.2" ry="4.8"/><ellipse cx="263" cy="351" rx="6.0" ry="3.6"/><ellipse cx="219" cy="364" rx="12.0" ry="9.0"/><ellipse cx="246" cy="359" rx="7.8" ry="5.4"/><ellipse cx="236" cy="371" rx="9.6" ry="4.8" transform="rotate(30 236 371)"/><ellipse cx="252" cy="370" rx="10.2" ry="7.8"/><ellipse cx="212" cy="381" rx="7.8" ry="12.0"/><ellipse cx="225" cy="382" rx="4.8" ry="9.6"/><ellipse cx="238" cy="382" rx="10.8" ry="7.2" transform="rotate(30 238 382)"/><ellipse cx="250" cy="386" rx="9.6" ry="3.6" transform="rotate(30 250 386)"/><ellipse cx="264" cy="382" rx="3.0" ry="7.2"/><ellipse cx="271" cy="371" rx="3.6" ry="6.0"/><ellipse cx="276" cy="360" rx="18.0" ry="5.4"/><ellipse cx="280" cy="376" rx="7.2" ry="8.4"/><ellipse cx="291" cy="367" rx="7.8" ry="6.6"/><ellipse cx="288" cy="388" rx="7.8" ry="7.2"/><ellipse cx="300" cy="382" rx="7.2" ry="3.0" transform="rotate(15 300 382)"/><ellipse cx="302" cy="392" rx="4.8" ry="4.8"/><ellipse cx="210" cy="400" rx="6.0" ry="7.8"/><ellipse cx="224" cy="400" rx="4.8" ry="6.6"/><ellipse cx="246" cy="399" rx="9.6" ry="3.6" transform="rotate(25 246 399)"/><ellipse cx="264" cy="401" rx="7.8" ry="6.6"/><ellipse cx="278" cy="401" rx="7.8" ry="6.6"/><ellipse cx="273" cy="390" rx="3.6" ry="3.6"/><ellipse cx="296" cy="402" rx="3.6" ry="4.8" transform="rotate(30 296 402)"/><ellipse cx="258" cy="390" rx="3.0" ry="4.8"/><ellipse cx="314" cy="327" rx="8.7" ry="8.7"/><ellipse cx="328" cy="316" rx="5.4" ry="7.4"/><ellipse cx="330" cy="326" rx="8.7" ry="6.7" transform="rotate(30 330 326)"/><ellipse cx="343" cy="314" rx="4.0" ry="5.4"/><ellipse cx="347" cy="323" rx="10.1" ry="4.0" transform="rotate(10 347 323)"/><ellipse cx="350" cy="330" rx="8.0" ry="5.4" transform="rotate(30 350 330)"/><ellipse cx="338" cy="336" rx="5.4" ry="8.7" transform="rotate(20 338 336)"/><ellipse cx="317" cy="341" rx="8.7" ry="8.0"/><ellipse cx="328" cy="343" rx="8.7" ry="6.7" transform="rotate(-30 328 343)"/><ellipse cx="346" cy="347" rx="15.0" ry="6.0" transform="rotate(10 346 347)"/><ellipse cx="356" cy="350" rx="6.6" ry="4.8"/><ellipse cx="316" cy="351" rx="12.0" ry="3.6" transform="rotate(15 316 351)"/><ellipse cx="308" cy="370" rx="4.8" ry="9.0" transform="rotate(-15 308 370)"/><ellipse cx="324" cy="365" rx="15.0" ry="9.0"/><ellipse cx="324" cy="376" rx="3.6" ry="7.2"/><ellipse cx="350" cy="366" rx="8.4" ry="12.0"/><ellipse cx="340" cy="381" rx="12.0" ry="5.4" transform="rotate(25 340 381)"/><ellipse cx="348" cy="387" rx="9.0" ry="6.0"/><ellipse cx="323" cy="391" rx="3.6" ry="9.0"/><ellipse cx="316" cy="393" rx="6.0" ry="3.0" transform="rotate(30 316 393)"/><ellipse cx="333" cy="389" rx="7.8" ry="2.4" transform="rotate(15 333 389)"/><ellipse cx="330" cy="401" rx="6.6" ry="6.6"/><ellipse cx="344" cy="398" rx="7.2" ry="4.8" transform="rotate(30 344 398)"/><ellipse cx="310" cy="383" rx="9.0" ry="2.4" transform="rotate(-10 310 383)"/><ellipse cx="298" cy="404" rx="3.6" ry="3.6"/><ellipse cx="270" cy="369" rx="3.6" ry="4.8"/><ellipse cx="303" cy="389" rx="3.6" ry="6.6" transform="rotate(-30 303 389)"/><ellipse cx="273" cy="392" rx="3.0" ry="4.2"/><ellipse cx="122" cy="354" rx="6.0" ry="4.8"/><ellipse cx="160" cy="355" rx="6.0" ry="4.8"/><ellipse cx="190" cy="356" rx="7.2" ry="4.8"/><ellipse cx="205" cy="354" rx="6.0" ry="4.8"/><ellipse cx="218" cy="357" rx="4.8" ry="4.8"/><ellipse cx="262" cy="355" rx="6.0" ry="4.8"/><ellipse cx="276" cy="353" rx="6.0" ry="4.8"/><ellipse cx="290" cy="356" rx="6.0" ry="4.2"/><ellipse cx="312" cy="355" rx="6.0" ry="4.8"/><ellipse cx="325" cy="353" rx="6.0" ry="4.8"/><ellipse cx="337" cy="356" rx="4.8" ry="4.2"/></g><g fill="#EE760B"><ellipse cx="118.8" cy="312.9" rx="7.4" ry="5.4"/><ellipse cx="134.0" cy="312.9" rx="7.4" ry="5.4"/><ellipse cx="164.0" cy="312.9" rx="7.4" ry="5.4"/><ellipse cx="193.8" cy="312.9" rx="7.4" ry="5.4"/><ellipse cx="209.0" cy="312.9" rx="7.4" ry="5.4"/><ellipse cx="224.0" cy="312.9" rx="7.4" ry="5.4"/><ellipse cx="233.0" cy="312.9" rx="7.4" ry="5.4"/><ellipse cx="263.0" cy="312.9" rx="7.4" ry="5.4"/><ellipse cx="278.0" cy="312.9" rx="7.4" ry="5.4"/><ellipse cx="293.0" cy="312.9" rx="7.4" ry="5.4"/><ellipse cx="308.0" cy="312.9" rx="7.4" ry="5.4"/><ellipse cx="323.0" cy="312.9" rx="7.4" ry="5.4"/><ellipse cx="338.0" cy="312.9" rx="7.4" ry="5.4"/><ellipse cx="353.0" cy="312.9" rx="7.4" ry="5.4"/><ellipse cx="248.0" cy="312.4" rx="7.4" ry="5.4"/><ellipse cx="354.2" cy="313.5" rx="5.6" ry="6.0"/><ellipse cx="354.7" cy="324.3" rx="5.6" ry="6.0"/><ellipse cx="354.7" cy="336.2" rx="5.6" ry="6.0"/><ellipse cx="354.7" cy="371.6" rx="5.6" ry="6.0"/><ellipse cx="354.7" cy="383.4" rx="5.6" ry="6.0"/></g></g>
<rect x="109.2" y="306.5" width="253.3" height="101.5" fill="none" stroke="#000" stroke-width="4"/>
<path d="M114.6,278.9V296.3" stroke="#0B70C2" stroke-width="2.3" fill="none"/><path d="M108.94999999999999,293.0L120.25,293.0L114.6,304.3Z" fill="#0B70C2"/><path d="M142,278.9V296.3" stroke="#0B70C2" stroke-width="2.3" fill="none"/><path d="M136.35,293.0L147.65,293.0L142,304.3Z" fill="#0B70C2"/><path d="M170,278.9V296.3" stroke="#0B70C2" stroke-width="2.3" fill="none"/><path d="M164.35,293.0L175.65,293.0L170,304.3Z" fill="#0B70C2"/><path d="M198,278.9V296.3" stroke="#0B70C2" stroke-width="2.3" fill="none"/><path d="M192.35,293.0L203.65,293.0L198,304.3Z" fill="#0B70C2"/><path d="M226,278.9V296.3" stroke="#0B70C2" stroke-width="2.3" fill="none"/><path d="M220.35,293.0L231.65,293.0L226,304.3Z" fill="#0B70C2"/><path d="M253.5,278.9V296.3" stroke="#0B70C2" stroke-width="2.3" fill="none"/><path d="M247.85,293.0L259.15,293.0L253.5,304.3Z" fill="#0B70C2"/><path d="M281.5,278.9V296.3" stroke="#0B70C2" stroke-width="2.3" fill="none"/><path d="M275.85,293.0L287.15,293.0L281.5,304.3Z" fill="#0B70C2"/><path d="M309.5,278.9V296.3" stroke="#0B70C2" stroke-width="2.3" fill="none"/><path d="M303.85,293.0L315.15,293.0L309.5,304.3Z" fill="#0B70C2"/><path d="M333,278.9V296.3" stroke="#0B70C2" stroke-width="2.3" fill="none"/><path d="M327.35,293.0L338.65,293.0L333,304.3Z" fill="#0B70C2"/><path d="M352.6,278.9V296.3" stroke="#0B70C2" stroke-width="2.3" fill="none"/><path d="M346.95000000000005,293.0L358.25,293.0L352.6,304.3Z" fill="#0B70C2"/><path d="M117.4,435.6V418.7" stroke="#0B70C2" stroke-width="2.3" fill="none"/><path d="M111.75,422.0L123.05000000000001,422.0L117.4,410.7Z" fill="#0B70C2"/><path d="M135.8,435.6V418.7" stroke="#0B70C2" stroke-width="2.3" fill="none"/><path d="M130.15,422.0L141.45000000000002,422.0L135.8,410.7Z" fill="#0B70C2"/><path d="M158.8,435.6V418.7" stroke="#0B70C2" stroke-width="2.3" fill="none"/><path d="M153.15,422.0L164.45000000000002,422.0L158.8,410.7Z" fill="#0B70C2"/><path d="M187.6,435.6V418.7" stroke="#0B70C2" stroke-width="2.3" fill="none"/><path d="M181.95,422.0L193.25,422.0L187.6,410.7Z" fill="#0B70C2"/><path d="M215.6,435.6V418.7" stroke="#0B70C2" stroke-width="2.3" fill="none"/><path d="M209.95,422.0L221.25,422.0L215.6,410.7Z" fill="#0B70C2"/><path d="M243.6,435.6V418.7" stroke="#0B70C2" stroke-width="2.3" fill="none"/><path d="M237.95,422.0L249.25,422.0L243.6,410.7Z" fill="#0B70C2"/><path d="M270.8,435.6V418.7" stroke="#0B70C2" stroke-width="2.3" fill="none"/><path d="M265.15000000000003,422.0L276.45,422.0L270.8,410.7Z" fill="#0B70C2"/><path d="M298.8,435.6V418.7" stroke="#0B70C2" stroke-width="2.3" fill="none"/><path d="M293.15000000000003,422.0L304.45,422.0L298.8,410.7Z" fill="#0B70C2"/><path d="M326.8,435.6V418.7" stroke="#0B70C2" stroke-width="2.3" fill="none"/><path d="M321.15000000000003,422.0L332.45,422.0L326.8,410.7Z" fill="#0B70C2"/><path d="M354.8,435.6V418.7" stroke="#0B70C2" stroke-width="2.3" fill="none"/><path d="M349.15000000000003,422.0L360.45,422.0L354.8,410.7Z" fill="#0B70C2"/><path d="M78,310.6H101.3" stroke="#0B70C2" stroke-width="2.3" fill="none"/><path d="M97.1,304.70000000000005L97.1,316.5L109.3,310.6Z" fill="#0B70C2"/><path d="M78,332.8H101.3" stroke="#0B70C2" stroke-width="2.3" fill="none"/><path d="M97.1,326.90000000000003L97.1,338.7L109.3,332.8Z" fill="#0B70C2"/><path d="M78,355.2H101.3" stroke="#0B70C2" stroke-width="2.3" fill="none"/><path d="M97.1,349.3L97.1,361.09999999999997L109.3,355.2Z" fill="#0B70C2"/><path d="M78,378H101.3" stroke="#0B70C2" stroke-width="2.3" fill="none"/><path d="M97.1,372.1L97.1,383.9L109.3,378Z" fill="#0B70C2"/><path d="M78,400.5H101.3" stroke="#0B70C2" stroke-width="2.3" fill="none"/><path d="M97.1,394.6L97.1,406.4L109.3,400.5Z" fill="#0B70C2"/><path d="M395.8,312.7H373.6" stroke="#0B70C2" stroke-width="2.3" fill="none"/><path d="M376.90000000000003,307.05L376.90000000000003,318.34999999999997L365.6,312.7Z" fill="#0B70C2"/><path d="M395.8,334.9H373.6" stroke="#0B70C2" stroke-width="2.3" fill="none"/><path d="M376.90000000000003,329.25L376.90000000000003,340.54999999999995L365.6,334.9Z" fill="#0B70C2"/><path d="M395.8,357.5H373.6" stroke="#0B70C2" stroke-width="2.3" fill="none"/><path d="M376.90000000000003,351.85L376.90000000000003,363.15L365.6,357.5Z" fill="#0B70C2"/><path d="M395.8,380H373.6" stroke="#0B70C2" stroke-width="2.3" fill="none"/><path d="M376.90000000000003,374.35L376.90000000000003,385.65L365.6,380Z" fill="#0B70C2"/><path d="M395.8,402.4H373.6" stroke="#0B70C2" stroke-width="2.3" fill="none"/><path d="M376.90000000000003,396.75L376.90000000000003,408.04999999999995L365.6,402.4Z" fill="#0B70C2"/>
<!-- chart -->
<path d="M542.8,31V390.3H978" fill="none" stroke="#000" stroke-width="1.9"/>
<path d="M532.1,34.4L553.6,34.4L542.8,23.5Z" fill="#000"/>
<path d="M976.5,379.5L976.5,400.9L987.6,390.3Z" fill="#000"/>
<path d="M542.8,80 L557.2,209.5 L579,188.2 L600.3,209.5 L620,190.3 L637.2,207.6 L656.2,188.4 L676.8,208.7 L698.6,185.7 L720.6,208.7 L741.6,188.4 L764.6,210.6 L764.6,237.5 L790.7,237.5 L790.7,267.3 L818.7,267.3 L818.7,295.8 L846.9,295.8 L846.9,321.9 L873.2,321.9 L873.2,343.5 L966.5,343.5" fill="none" stroke="#0000FF" stroke-width="2.9" stroke-linejoin="miter"/>
<text x="135.6" y="170.5" font-size="33" fill="#0000FF" text-anchor="start" textLength="215" lengthAdjust="spacingAndGlyphs">Axial Pressure</text><text x="243.6" y="209.8" font-size="33" fill="#0000FF" text-anchor="middle">+</text><text x="102.4" y="250.3" font-size="33" fill="#0000FF" text-anchor="start" textLength="282.3" lengthAdjust="spacingAndGlyphs">Confining Pressure</text><text x="47.3" y="487.5" font-size="33" fill="#000" text-anchor="start" textLength="377.7" lengthAdjust="spacingAndGlyphs">Methane Hydrate Bearing</text><text x="158.9" y="526.6" font-size="33" fill="#000" text-anchor="start" textLength="155.6" lengthAdjust="spacingAndGlyphs">Sediments</text><text x="598.7" y="510.7" font-size="31.2" fill="#000" text-anchor="start" textLength="328.9" lengthAdjust="spacingAndGlyphs">Depressurization Model</text><text x="545.2" y="65.8" font-size="32.6" fill="#000" text-anchor="start" textLength="109.4" lengthAdjust="spacingAndGlyphs">Initial P</text><text x="559.2" y="145.5" font-size="31.9" fill="#FF0000" text-anchor="start" textLength="254.8" lengthAdjust="spacingAndGlyphs">1.Sharp decrease</text><text x="556.6" y="236.9" font-size="31.9" fill="#FF0000" text-anchor="start" textLength="193.5" lengthAdjust="spacingAndGlyphs">2.Fluctuating</text><text x="795.3" y="263.8" font-size="31.9" fill="#FF0000" text-anchor="start" textLength="156.3" lengthAdjust="spacingAndGlyphs">3.Step-like</text><text x="879.1" y="337.6" font-size="31.9" fill="#FF0000" text-anchor="start" textLength="119.4" lengthAdjust="spacingAndGlyphs">4.Stable</text><text x="860.4" y="383.3" font-size="32.6" fill="#000" text-anchor="start" textLength="109.5" lengthAdjust="spacingAndGlyphs">Initial P</text><text x="697.9" y="435.3" font-size="32.2" fill="#000" text-anchor="start" textLength="135.9" lengthAdjust="spacingAndGlyphs">Time (hr)</text><text transform="translate(506,239.5) rotate(-90)" font-size="32.6" fill="#000" textLength="59" lengthAdjust="spacingAndGlyphs">BHP</text>
</svg>
</body></html>
